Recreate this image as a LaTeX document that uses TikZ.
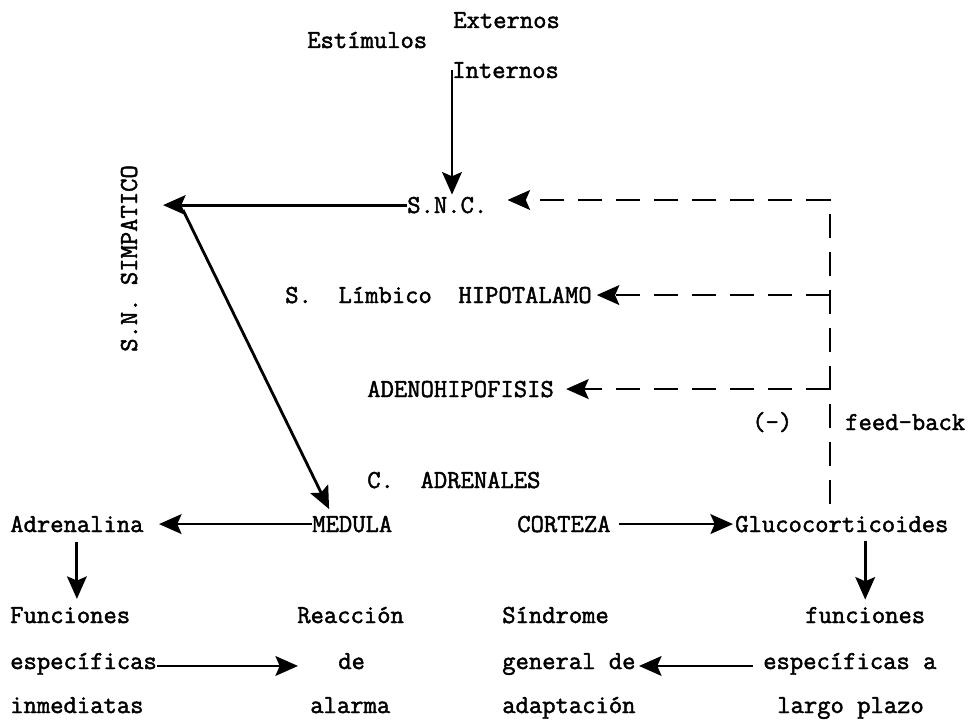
\documentclass[tikz,border=0pt]{standalone}
\usepackage{fontspec}
\usepackage{tikz}
\usetikzlibrary{arrows.meta,positioning,calc}
\newfontfamily\tw{Latin Modern Mono}[RawFeature={embolden=1.8}]
\frenchspacing

\begin{document}
\begin{tikzpicture}[
  txt/.style={anchor=base west,inner sep=0pt,font=\tw\fontsize{18.4}{21}\selectfont},
  arr/.style={-{Stealth[length=16pt,width=14pt,inset=3pt]},line width=2pt},
  fb/.style={arr,dash pattern=on 0.6cm off 0.35cm}]

  \useasboundingbox (0,0) rectangle (24.25,-18.1);

  % Stimuli at the top
  \node[txt] (estimulos) at (7.675,-1.2) {Estímulos};
  \node[txt] (externos) at (11.325,-0.7) {Externos};
  \node[txt] (internos) at (11.3,-1.95) {Internos};

  % Central chain
  \node[txt] (snc) at (10.175,-5.325) {S.N.C.};
  \node[txt] (hipotalamo) at (7.125,-7.575) {S.~~Límbico~~HIPOTALAMO};
  \node[txt] (adeno) at (9.175,-9.925) {ADENOHIPOFISIS};
  \node[txt] (cadrenales) at (9.175,-12.2) {C.~~ADRENALES};
  \node[txt] (medula) at (7.8,-13.3) {MEDULA};
  \node[txt] (corteza) at (12.925,-13.3) {CORTEZA};

  % Sympathetic branch
  \node[txt,rotate=90] (simpatico) at (3.425,-8.8) {S.N. SIMPATICO};
  \coordinate (symp) at (4.075,-5.05);

  % Hormones
  \node[txt] (adrenalina) at (0.25,-13.3) {Adrenalina};
  \node[txt] (gluco) at (18.375,-13.3) {Glucocorticoides};

  % Bottom rows
  \node[txt] (funciones) at (0.25,-15.575) {Funciones};
  \node[txt] (especificas) at (0.25,-16.725) {específicas};
  \node[txt] (inmediatas) at (0.25,-17.825) {inmediatas};
  \node[txt] (reaccion) at (7.425,-15.575) {Reacción};
  \node[txt] (de) at (8.45,-16.725) {de};
  \node[txt] (alarma) at (7.75,-17.825) {alarma};
  \node[txt] (sindrome) at (12.55,-15.575) {Síndrome};
  \node[txt] (generalde) at (12.55,-16.725) {general de};
  \node[txt] (adaptacion) at (12.55,-17.825) {adaptación};
  \node[txt] (funcionesb) at (20.125,-15.575) {funciones};
  \node[txt] (especificasb) at (19.075,-16.725) {específicas a};
  \node[txt] (largoplazo) at (19.425,-17.825) {largo plazo};

  % Feedback labels
  \node[txt] (menos) at (18.8,-10.75) {(-)};
  \node[txt] (feedback) at (21.125,-10.75) {feed-back};
  \coordinate (fbtop) at (20.75,-5.0);

  % Solid arrows
  \draw[arr,shorten >=0.05cm] (internos.west) -- (internos.west |- snc.north);
  \draw[arr] (snc.west) -- (snc.west -| symp);
  \draw[arr,shorten >=0.18cm] ([shift={(0.5,-0.2)}]symp) -- ([xshift=-0.5cm]medula.north);
  \draw[arr,shorten >=0.38cm] (medula.west) -- (medula.west -| adrenalina.east);
  \draw[arr,shorten <=0.2cm,shorten >=0.05cm] (corteza.east) -- (corteza.east -| gluco.west);
  \draw[arr,shorten <=0.25cm,shorten >=0.2cm] (adrenalina.south) -- (adrenalina.south |- funciones.north);
  \draw[arr,shorten <=0.2cm,shorten >=0.18cm] (funcionesb.north |- gluco.south) -- (funcionesb.north);
  \draw[arr,shorten >=1cm] (especificas.mid east) -- (especificas.mid east -| de.mid west);
  \draw[arr,shorten <=0.25cm,shorten >=0.08cm] (especificasb.mid west) -- (especificasb.mid west -| generalde.mid east);

  % Negative feedback (dashed)
  \draw[fb,shorten <=0.28cm,shorten >=0.5cm] (gluco.north -| fbtop) -- (fbtop) -- (fbtop -| snc.east);
  \draw[fb,shorten >=0.12cm] (hipotalamo.east -| fbtop) -- (hipotalamo.east);
  \draw[fb,shorten >=0.3cm] (adeno.east -| fbtop) -- (adeno.east);

\end{tikzpicture}
\end{document}
